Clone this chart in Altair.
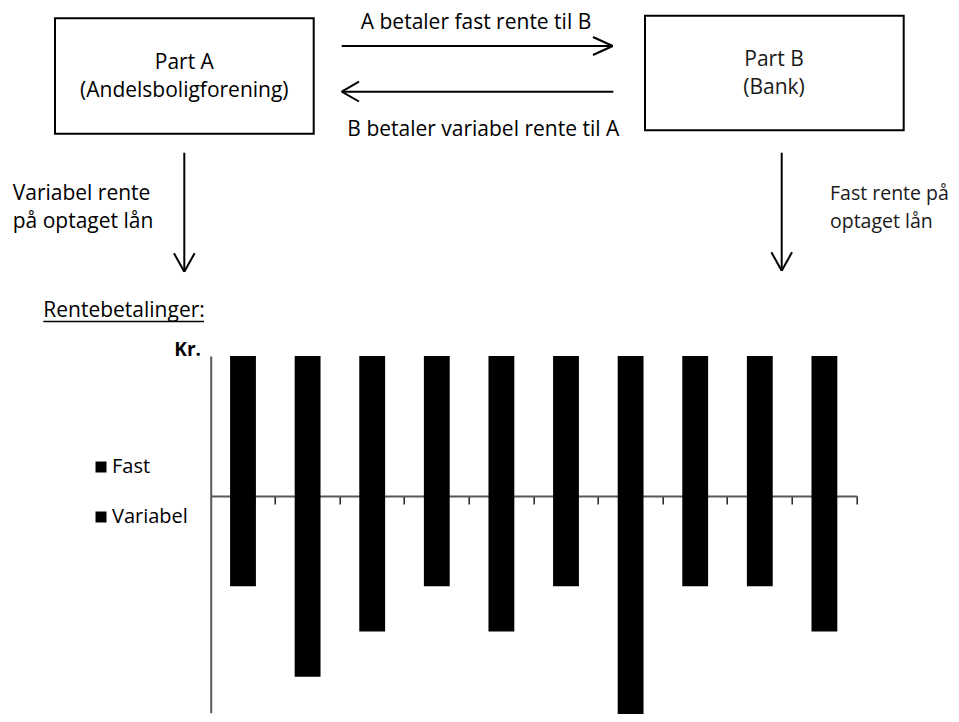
import altair as alt
import pandas as pd

# ---------------- data ----------------
periods = ["1", "2", "3", "4", "5", "6", "7", "8", "9", "10"]
fast = [3.1, 3.1, 3.1, 3.1, 3.1, 3.1, 3.1, 3.1, 3.1, 3.1]
variabel = [-2, -4, -3, -2, -3, -2, -5, -2, -2, -3]
series = ["Fast", "Variabel"]

df = pd.DataFrame({
    "period": periods + periods,
    "type": ["Fast"] * len(periods) + ["Variabel"] * len(periods),
    "value": fast + variabel,
})

# ---------------- layout (page pixel coordinates) ----------------
PX0, PY0 = 210.7, 356.0          # top-left of plot area on page
PLOT_W = 646.0
Y_MIN, Y_MAX = -4.8, 3.1
ZERO_PAGE_Y = 496.0
PLOT_H = (ZERO_PAGE_Y - PY0) * (Y_MAX - Y_MIN) / Y_MAX
X_AXIS_OFFSET = -(PLOT_H * (0 - Y_MIN) / (Y_MAX - Y_MIN))
PAD_INNER, PAD_OUTER = 0.6, 0.3
# tick at the step boundary after each band, in units of bandwidth
TICK_POS = 1 + (PAD_INNER / 2) / (1 - PAD_INNER)

TOTAL_W, TOTAL_H = 943.0, 706.0
PAD = {
    "left": PX0 - 8,
    "top": PY0 - 8,
    "right": TOTAL_W - (PX0 - 8) - PLOT_W,
    "bottom": TOTAL_H - (PY0 - 8) - PLOT_H,
}


def X(px):
    return px - PX0


def Y(py):
    return py - PY0


FONT = "Open Sans"
FS = 21
DARK = "#000000"
LIGHT = "#1a1a1a"

one = alt.InlineData(values=[{"k": 1}])

# ---------------- bars ----------------
bars = alt.Chart(df).mark_bar(clip=False).encode(
    x=alt.X(
        "period:N", sort=periods,
        scale=alt.Scale(paddingInner=PAD_INNER, paddingOuter=PAD_OUTER),
        axis=alt.Axis(labels=False, title=None, bandPosition=TICK_POS, tickSize=8,
                      tickColor="#222222", tickWidth=1.5, domainColor="#595959",
                      domainWidth=2, grid=False, offset=X_AXIS_OFFSET, zindex=0),
    ),
    y=alt.Y(
        "value:Q", stack=None,
        scale=alt.Scale(domain=[Y_MIN, Y_MAX], nice=False),
        axis=alt.Axis(labels=False, ticks=False, title=None, grid=False,
                      domainColor="#595959", domainWidth=2, zindex=0),
    ),
    color=alt.Color(
        "type:N",
        scale=alt.Scale(domain=series, range=["#000000", "#000000"]),
        legend=alt.Legend(
            title=None, orient="none", legendX=X(91), legendY=Y(457),
            direction="vertical", symbolType="square", symbolSize=121,
            symbolStrokeWidth=0, labelFont=FONT, labelFontSize=FS - 1,
            labelColor="#000000", rowPadding=30, labelOffset=1, padding=0,
        ),
    ),
)

layers = [bars]

# ---------------- boxes ----------------
boxes = [
    (55, 18.3, 313.7, 133.7),
    (645, 15.7, 903.7, 130.3),
]
for x1, y1, x2, y2 in boxes:
    layers.append(
        alt.Chart(one).mark_rect(fill=None, stroke="black", strokeWidth=2).encode(
            x=alt.value(X(x1)), x2=alt.value(X(x2)),
            y=alt.value(Y(y1)), y2=alt.value(Y(y2)),
        )
    )

# ---------------- arrows / lines ----------------
segments = [
    # top arrow A -> B
    (341.7, 46, 612.7, 46, 2),
    (593, 37, 612.7, 46, 2),
    (593, 55, 612.7, 46, 2),
    # bottom arrow B -> A
    (341.7, 91.7, 613.3, 91.7, 2),
    (359, 81.7, 341.7, 91.7, 2),
    (359, 101.5, 341.7, 91.7, 2),
    # down arrow A
    (184.3, 152.7, 184.3, 271.7, 2),
    (174, 253.3, 184.3, 271.7, 2),
    (194.6, 253.3, 184.3, 271.7, 2),
    # down arrow B
    (781.7, 152.7, 781.7, 270.7, 2),
    (771.4, 252.3, 781.7, 270.7, 2),
    (792, 252.3, 781.7, 270.7, 2),
    # underline heading
    (43.3, 321.5, 204, 321.5, 1.5),
]
for x1, y1, x2, y2, w in segments:
    layers.append(
        alt.Chart(one).mark_rule(color="black", strokeWidth=w).encode(
            x=alt.value(X(x1)), x2=alt.value(X(x2)),
            y=alt.value(Y(y1)), y2=alt.value(Y(y2)),
        )
    )

# ---------------- texts ----------------
texts = [
    ("Part A", 184.3, 62.7, "center", DARK, "normal", FS),
    ("(Andelsboligforening)", 184.3, 90.7, "center", DARK, "normal", FS),
    ("Part B", 774, 60, "center", LIGHT, "normal", FS),
    ("(Bank)", 774, 88.3, "center", LIGHT, "normal", FS),
    ("A betaler fast rente til B", 476, 23.3, "center", DARK, "normal", FS),
    ("B betaler variabel rente til A", 483.3, 130, "center", DARK, "normal", FS),
    ("Variabel rente", 12.7, 194.3, "left", DARK, "normal", FS),
    ("på optaget lån", 12.7, 221.7, "left", DARK, "normal", FS),
    ("Fast rente på", 830, 194.3, "left", LIGHT, "normal", 19.5),
    ("optaget lån", 830, 221.7, "left", LIGHT, "normal", 19.5),
    ("Rentebetalinger:", 43.3, 311, "left", DARK, "normal", FS),
    ("Kr.", 174.3, 350, "left", DARK, "bold", FS - 2),
]
for t, x, y, al, col, wt, fs in texts:
    layers.append(
        alt.Chart(one).mark_text(
            text=t, font=FONT, fontSize=fs,
            align=al, baseline="middle", color=col, fontWeight=wt,
        ).encode(x=alt.value(X(x)), y=alt.value(Y(y)))
    )

chart = alt.layer(*layers).properties(
    width=PLOT_W, height=PLOT_H, padding=PAD, autosize="none",
).configure_view(stroke=None)

chart.save("out.html", embed_options={"renderer": "svg", "actions": False})
